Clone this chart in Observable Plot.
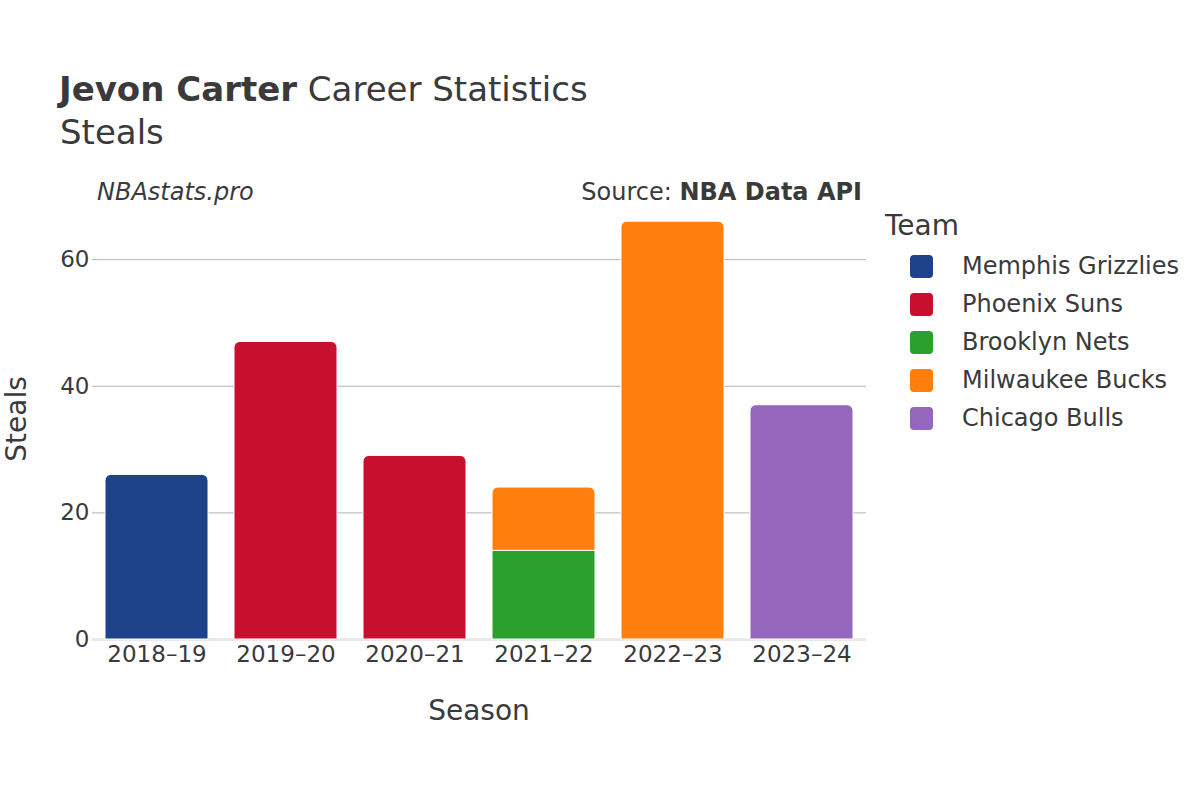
<!DOCTYPE html>
<html><head><meta charset="utf-8">
<script src="https://cdn.jsdelivr.net/npm/d3@7"></script>
<script src="https://cdn.jsdelivr.net/npm/@observablehq/plot@0.6"></script>
<style>
body{margin:0;background:#fff;font-family:"DejaVu Sans",sans-serif;color:#3a3a3a}
#wrap{position:relative;width:1200px;height:800px;overflow:hidden}
#chart{position:absolute;left:0;top:0}
.t{position:absolute;white-space:nowrap;color:#3a3a3a;line-height:1}
.sw{position:absolute;width:23px;height:23px;border-radius:4px}
</style></head><body><div id="wrap">
<div id="chart"></div>
<div class="t" style="left:59px;top:72px;font-size:34px"><b>Jevon Carter</b> Career Statistics</div>
<div class="t" style="left:60px;top:115px;font-size:34px">Steals</div>
<div class="t" style="left:97px;top:180px;font-size:24px;font-style:italic">NBAstats.pro</div>
<div class="t" style="right:338px;top:180px;font-size:24px">Source: <b>NBA Data API</b></div>
<div class="t" style="left:479px;top:697px;font-size:28px;transform:translateX(-50%)">Season</div>
<div class="t" style="left:17px;top:419px;font-size:28px;transform:translate(-50%,-50%) rotate(-90deg)">Steals</div>
<div id="legend"></div>
</div>
<script>
const seasons = ["2018–19","2019–20","2020–21","2021–22","2021–22","2022–23","2023–24"];
const teams = ["Memphis Grizzlies","Phoenix Suns","Phoenix Suns","Brooklyn Nets","Milwaukee Bucks","Milwaukee Bucks","Chicago Bulls"];
const steals = [26,47,29,14,10,66,37];
const seasonOrder = ["2018–19","2019–20","2020–21","2021–22","2022–23","2023–24"];
const teamOrder = ["Memphis Grizzlies","Phoenix Suns","Brooklyn Nets","Milwaukee Bucks","Chicago Bulls"];
const teamColors = ["#1d428a","#c8102e","#2ca02c","#ff7f0e","#9467bd"];
const yTicks = [0,20,40,60];

const rows = [];
const acc = {};
seasons.forEach((s,i)=>{
  const base = acc[s] || 0;
  rows.push({season:s, team:teams[i], value:steals[i], y1:base, y2:base+steals[i]});
  acc[s] = base + steals[i];
});
rows.forEach((r,i)=>{ r.top = !rows.slice(i+1).some(q=>q.season===r.season); });

const plot = Plot.plot({
  width:1200, height:800,
  marginLeft:92, marginRight:334, marginTop:199, marginBottom:161,
  style:{fontFamily:"DejaVu Sans, sans-serif", color:"#3a3a3a", background:"transparent"},
  x:{domain:seasonOrder, paddingInner:0.2, paddingOuter:0.1, label:null},
  y:{domain:[0,69.5], label:null},
  color:{domain:teamOrder, range:teamColors},
  marks:[
    Plot.gridY(yTicks.filter(d=>d>0), {stroke:"#b4b4b4", strokeOpacity:1, strokeWidth:1}),
    Plot.ruleY([0], {stroke:"#e8e8e8", strokeWidth:3}),
    Plot.barY(rows.filter(r=>!r.top), {x:"season", y1:"y1", y2:"y2", fill:"team", stroke:"white", strokeWidth:1}),
    Plot.barY(rows.filter(r=>r.top), {x:"season", y1:"y1", y2:"y2", fill:"team", stroke:"white", strokeWidth:1, ry1:6}),
    Plot.axisX({tickSize:0, tickPadding:6, fontSize:23, label:null}),
    Plot.axisY({ticks:yTicks, tickSize:0, tickPadding:3, fontSize:23, label:null, tickFormat:d3.format("d")})
  ]
});
document.getElementById("chart").appendChild(plot);

const leg = document.getElementById("legend");
let html = '<div class="t" style="left:885px;top:212px;font-size:28px">Team</div>';
teamOrder.forEach((t,i)=>{
  const cy = 266 + i*38;
  html += `<div class="sw" style="left:910px;top:${cy-11.5}px;background:${teamColors[i]}"></div>`;
  html += `<div class="t" style="left:962px;top:${cy-12}px;font-size:24px">${t}</div>`;
});
leg.innerHTML = html;
</script>
</body></html>
